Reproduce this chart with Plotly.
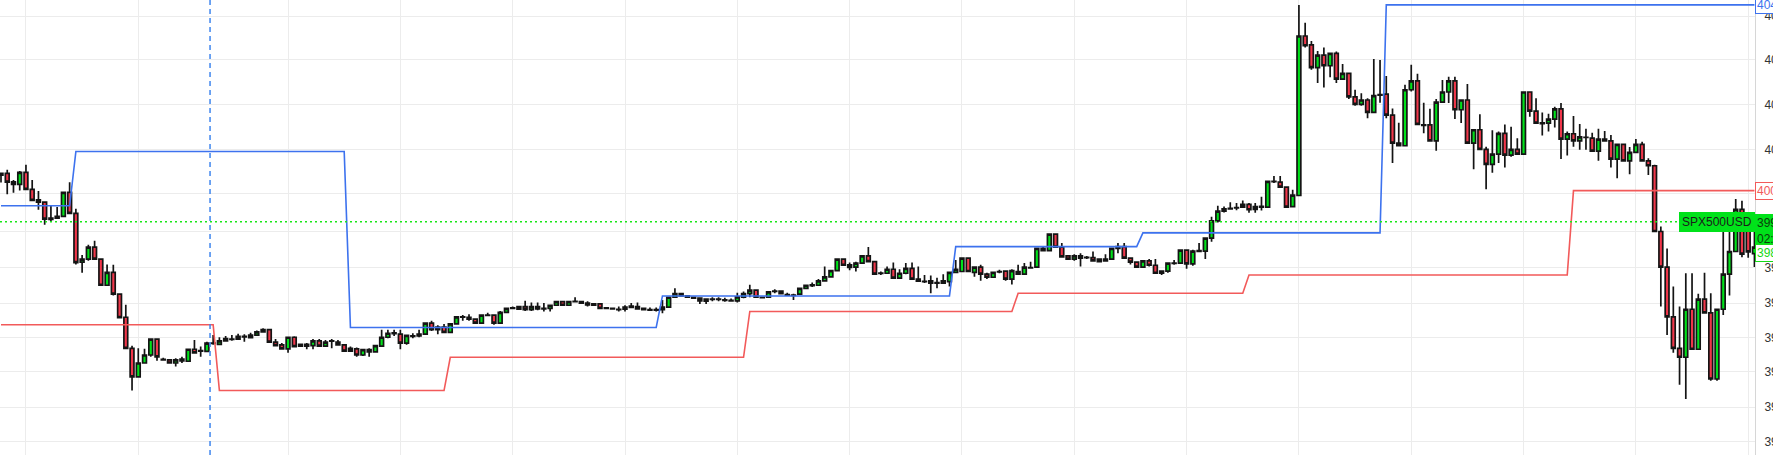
import plotly.graph_objects as go

# ---------------- data (SPX500USD intraday candles) ----------------
opens = [
    4004.1, 4004.5, 4002.6, 4002.0, 4004.7, 4000.9, 3998.5, 3998.0, 3994.4, 3994.4,
    3994.8, 4000.2, 3995.5, 3984.5, 3985.2, 3987.9, 3985.2, 3979.3, 3982.2, 3977.3,
    3972.1, 3965.1, 3958.7, 3961.8, 3963.6, 3967.2, 3962.6, 3962.5, 3961.8, 3962.3,
    3962.2, 3964.9, 3964.6, 3964.4, 3966.3, 3966.0, 3966.8, 3967.2, 3967.2, 3967.8,
    3967.5, 3968.1, 3968.8, 3969.3, 3966.5, 3965.9, 3965.0, 3967.6, 3965.6, 3966.0,
    3965.7, 3966.8, 3965.6, 3966.8, 3966.5, 3965.9, 3964.5, 3965.0, 3963.6, 3964.8,
    3964.3, 3965.6, 3967.6, 3968.6, 3968.3, 3966.3, 3967.9, 3967.9, 3968.3, 3970.8,
    3969.3, 3969.9, 3968.7, 3970.6, 3972.2, 3972.1, 3971.7, 3970.8, 3972.6, 3972.6,
    3970.8, 3973.2, 3974.2, 3973.9, 3974.5, 3973.8, 3974.5, 3974.1, 3974.1, 3974.8,
    3975.6, 3974.8, 3975.7, 3975.6, 3975.3, 3975.1, 3975.1, 3974.2, 3974.1, 3973.9,
    3973.9, 3974.6, 3974.5, 3974.1, 3973.8, 3973.8, 3973.8, 3974.4, 3976.6, 3977.4,
    3976.9, 3976.6, 3976.4, 3975.7, 3976.2, 3976.1, 3976.0, 3975.9, 3975.8, 3976.6,
    3977.4, 3978.2, 3976.6, 3976.6, 3978.0, 3978.0, 3977.2, 3977.1, 3977.3, 3978.6,
    3979.4, 3979.3, 3980.3, 3981.2, 3982.6, 3985.2, 3983.9, 3983.4, 3984.3, 3985.9,
    3984.6, 3982.05, 3982.0, 3982.9, 3980.9, 3982.0, 3983.1, 3980.7, 3980.2, 3980.3,
    3979.9, 3979.8, 3980.1, 3982.2, 3982.4, 3985.4, 3982.2, 3983.4, 3981.8, 3981.1,
    3982.4, 3982.5, 3980.7, 3982.4, 3981.8, 3983.3, 3983.4, 3987.6, 3987.1, 3990.8,
    3987.9, 3985.9, 3985.2, 3985.9, 3985.6, 3985.5, 3985.2, 3984.8, 3985.2, 3987.6,
    3988.0, 3985.4, 3984.5, 3983.4, 3984.8, 3983.8, 3982.0, 3982.5, 3984.3, 3984.3,
    3987.2, 3984.1, 3987.1, 3987.0, 3989.9, 3993.8, 3996.0, 3996.6, 3996.8, 3996.9,
    3997.5, 3996.4, 3997.05, 3996.9, 4002.7, 4002.5, 4001.4, 3997.0, 3999.5, 4035.4,
    4033.4, 4028.3, 4031.1, 4028.7, 4031.5, 4025.7, 4027.0, 4021.7, 4020.0, 4021.0,
    4018.2, 4022.2, 4022.3, 4017.6, 4011.3, 4010.7, 4023.3, 4025.3, 4015.4, 4015.4,
    4011.8, 4020.5, 4022.8, 4025.3, 4018.8, 4021.0, 4011.3, 4014.3, 4009.9, 4006.5,
    4008.8, 4013.5, 4008.6, 4009.9, 4008.8, 4022.8, 4018.5, 4015.85, 4015.8, 4016.7,
    4019.0, 4012.2, 4013.4, 4011.8, 4012.6, 4012.4, 4009.5, 4012.2, 4011.8, 4007.7,
    4011.0, 4007.3, 4009.2, 4011.0, 4007.3, 4006.2, 3991.4, 3983.4, 3972.2, 3965.1,
    3963.1, 3973.9, 3964.9, 3976.2, 3973.1, 3958.2, 3973.9, 3981.8, 3986.9, 3996.4,
    3992.2, 3986.4,
]
highs = [
    4004.7, 4005.3, 4003.0, 4005.0, 4006.4, 4003.0, 4000.5, 3998.1, 3997.2, 3996.9,
    4000.2, 4002.5, 3996.5, 3986.1, 3988.4, 3989.3, 3985.2, 3984.0, 3983.9, 3977.4,
    3974.9, 3965.7, 3965.1, 3965.0, 3967.4, 3967.3, 3963.0, 3962.6, 3962.9, 3963.2,
    3965.0, 3967.0, 3965.5, 3966.6, 3968.1, 3967.6, 3967.9, 3968.1, 3968.4, 3968.3,
    3968.6, 3969.1, 3969.6, 3969.4, 3967.2, 3966.3, 3967.7, 3967.8, 3966.2, 3966.3,
    3967.2, 3967.2, 3967.0, 3967.2, 3967.0, 3966.0, 3965.5, 3965.3, 3964.9, 3965.1,
    3965.9, 3969.3, 3969.3, 3969.3, 3969.3, 3968.1, 3968.5, 3969.3, 3970.9, 3971.3,
    3970.3, 3970.6, 3970.7, 3972.4, 3972.6, 3972.8, 3971.7, 3972.7, 3973.1, 3972.7,
    3973.5, 3974.2, 3974.5, 3974.6, 3975.8, 3975.4, 3975.4, 3975.3, 3974.9, 3975.7,
    3975.7, 3975.7, 3976.6, 3975.7, 3975.7, 3975.2, 3975.3, 3974.3, 3974.2, 3974.5,
    3974.8, 3975.3, 3975.4, 3974.2, 3974.3, 3974.3, 3976.0, 3976.7, 3978.6, 3977.5,
    3977.0, 3976.7, 3976.5, 3976.3, 3976.6, 3976.6, 3976.5, 3976.3, 3977.6, 3977.9,
    3979.4, 3978.3, 3976.7, 3978.0, 3978.4, 3978.1, 3977.6, 3977.4, 3978.7, 3979.5,
    3979.9, 3980.7, 3983.5, 3982.7, 3985.4, 3985.3, 3984.4, 3984.6, 3986.0, 3987.9,
    3984.7, 3982.4, 3983.5, 3984.4, 3982.9, 3984.3, 3984.4, 3983.5, 3981.6, 3981.5,
    3981.0, 3981.8, 3982.4, 3985.0, 3985.5, 3985.5, 3983.5, 3983.9, 3982.1, 3982.3,
    3982.8, 3982.6, 3982.9, 3983.9, 3984.3, 3984.6, 3987.7, 3988.0, 3990.9, 3990.9,
    3988.8, 3986.0, 3986.3, 3986.5, 3985.9, 3986.9, 3985.3, 3986.3, 3987.7, 3988.8,
    3988.8, 3985.5, 3984.6, 3984.9, 3985.2, 3985.2, 3982.6, 3984.4, 3985.0, 3987.3,
    3987.3, 3987.3, 3988.8, 3990.0, 3994.7, 3997.2, 3997.0, 3998.0, 3997.8, 3998.4,
    3997.8, 3997.8, 3999.2, 4002.8, 4003.9, 4003.9, 4001.5, 4000.8, 4042.4, 4038.4,
    4034.3, 4032.0, 4032.8, 4031.6, 4031.9, 4029.1, 4027.1, 4023.3, 4022.5, 4021.4,
    4030.2, 4030.0, 4026.4, 4019.1, 4015.9, 4024.4, 4028.9, 4026.9, 4020.4, 4019.0,
    4021.2, 4025.5, 4026.2, 4026.2, 4021.1, 4024.6, 4014.4, 4017.8, 4010.5, 4014.2,
    4013.9, 4015.5, 4015.0, 4012.4, 4022.9, 4022.9, 4021.4, 4018.2, 4017.9, 4019.5,
    4020.3, 4013.9, 4017.4, 4015.6, 4014.5, 4013.6, 4014.5, 4014.0, 4013.1, 4011.1,
    4011.1, 4010.4, 4012.2, 4011.6, 4007.9, 4006.4, 3992.5, 3987.6, 3979.0, 3974.5,
    3982.0, 3982.0, 3977.4, 3982.1, 3977.5, 3974.0, 3991.8, 3991.8, 3998.7, 3998.3,
    3994.0, 3991.8,
]
lows = [
    4002.4, 3999.8, 4000.1, 4000.6, 4000.8, 3998.3, 3996.3, 3992.9, 3993.7, 3994.2,
    3994.7, 3995.4, 3984.0, 3982.1, 3984.8, 3985.0, 3979.2, 3979.2, 3977.0, 3971.8,
    3965.0, 3955.6, 3958.6, 3961.7, 3963.2, 3962.3, 3962.3, 3961.7, 3961.0, 3961.8,
    3962.1, 3964.0, 3963.2, 3964.3, 3965.9, 3965.9, 3966.7, 3966.8, 3967.1, 3966.6,
    3967.4, 3968.0, 3968.7, 3966.4, 3965.6, 3964.9, 3964.1, 3965.4, 3965.4, 3964.9,
    3964.9, 3965.4, 3965.4, 3965.1, 3965.7, 3964.4, 3964.4, 3963.2, 3963.4, 3963.2,
    3964.1, 3965.5, 3967.4, 3967.9, 3964.9, 3965.9, 3967.4, 3967.6, 3968.1, 3969.0,
    3968.3, 3968.6, 3968.6, 3970.4, 3971.3, 3971.3, 3970.7, 3970.7, 3972.4, 3970.4,
    3970.7, 3973.0, 3973.9, 3973.8, 3973.5, 3973.5, 3973.7, 3973.4, 3973.4, 3974.7,
    3974.7, 3974.7, 3975.4, 3975.2, 3974.5, 3974.7, 3974.0, 3974.0, 3973.9, 3973.4,
    3973.4, 3974.1, 3973.9, 3973.7, 3973.6, 3973.4, 3973.0, 3974.3, 3976.5, 3976.8,
    3976.5, 3976.3, 3975.1, 3975.1, 3975.7, 3975.7, 3975.6, 3975.6, 3975.4, 3976.4,
    3976.6, 3976.5, 3976.4, 3976.5, 3977.5, 3977.3, 3976.9, 3976.0, 3977.2, 3978.4,
    3978.9, 3979.2, 3980.2, 3981.1, 3982.5, 3983.7, 3982.7, 3982.4, 3984.2, 3984.5,
    3981.7, 3981.6, 3981.9, 3980.7, 3980.7, 3981.8, 3980.6, 3980.1, 3979.8, 3977.5,
    3978.6, 3979.7, 3979.0, 3982.1, 3982.3, 3982.3, 3981.2, 3980.3, 3980.7, 3981.0,
    3982.0, 3980.3, 3979.5, 3981.7, 3981.6, 3983.1, 3983.3, 3986.9, 3987.0, 3987.8,
    3985.6, 3985.1, 3984.8, 3983.5, 3985.2, 3984.7, 3984.5, 3984.6, 3985.0, 3986.5,
    3985.3, 3984.0, 3983.3, 3983.3, 3983.5, 3981.9, 3981.6, 3982.1, 3983.9, 3984.2,
    3983.0, 3983.7, 3986.8, 3985.2, 3989.1, 3993.4, 3995.7, 3996.4, 3996.2, 3996.8,
    3995.6, 3995.6, 3996.1, 3996.8, 4002.3, 4001.3, 3996.8, 3996.9, 3999.4, 4032.8,
    4027.8, 4024.8, 4023.8, 4026.1, 4024.8, 4025.6, 4021.2, 4019.7, 4019.7, 4016.9,
    4018.0, 4020.4, 4016.9, 4006.8, 4010.6, 4010.6, 4022.9, 4015.4, 4013.5, 4011.7,
    4009.6, 4020.4, 4020.3, 4016.7, 4015.8, 4011.2, 4005.4, 4009.8, 4000.9, 4004.6,
    4006.8, 4005.8, 4008.2, 4008.7, 4008.7, 4017.2, 4015.7, 4013.0, 4013.9, 4014.8,
    4007.7, 4008.5, 4010.5, 4009.8, 4009.8, 4009.4, 4007.3, 4011.7, 4005.8, 4003.4,
    4007.1, 4004.3, 4009.1, 4007.2, 4004.1, 3991.3, 3974.5, 3968.1, 3964.1, 3956.9,
    3953.7, 3964.8, 3964.8, 3973.0, 3957.8, 3957.8, 3972.6, 3977.0, 3986.8, 3985.6,
    3985.5, 3983.4,
]
closes = [
    4004.5, 4002.5, 4002.0, 4004.7, 4000.9, 3998.4, 3998.0, 3994.2, 3994.1, 3994.8,
    4000.2, 3995.5, 3984.4, 3985.2, 3987.9, 3985.2, 3979.3, 3982.2, 3977.3, 3972.0,
    3965.1, 3958.7, 3961.8, 3963.6, 3967.2, 3963.2, 3962.5, 3961.8, 3962.5, 3962.7,
    3964.9, 3964.1, 3964.5, 3966.3, 3966.2, 3966.8, 3967.3, 3967.1, 3967.8, 3967.7,
    3968.1, 3968.8, 3969.3, 3966.5, 3965.7, 3965.0, 3967.6, 3965.5, 3966.0, 3965.6,
    3966.8, 3965.6, 3966.5, 3966.7, 3965.9, 3964.5, 3965.1, 3963.6, 3964.8, 3964.3,
    3965.7, 3967.6, 3968.5, 3968.4, 3966.3, 3968.0, 3967.8, 3968.3, 3970.8, 3969.3,
    3969.9, 3968.7, 3970.6, 3972.2, 3972.1, 3971.7, 3970.8, 3972.6, 3972.5, 3970.8,
    3973.2, 3974.1, 3974.1, 3974.5, 3973.8, 3974.5, 3974.0, 3974.0, 3974.8, 3975.6,
    3974.8, 3975.6, 3975.6, 3975.3, 3974.9, 3974.8, 3974.1, 3974.1, 3974.0, 3973.8,
    3974.4, 3974.3, 3974.0, 3973.8, 3973.7, 3973.7, 3974.4, 3976.6, 3977.4, 3976.9,
    3976.6, 3976.4, 3975.8, 3976.2, 3976.1, 3976.2, 3975.9, 3975.8, 3976.7, 3977.4,
    3978.2, 3976.6, 3976.5, 3977.8, 3977.9, 3977.4, 3977.1, 3977.0, 3978.6, 3979.3,
    3979.2, 3980.3, 3981.2, 3982.6, 3985.2, 3983.8, 3983.3, 3984.3, 3985.9, 3984.6,
    3981.8, 3981.95, 3982.9, 3980.9, 3982.0, 3983.1, 3980.7, 3980.2, 3980.1, 3979.8,
    3979.8, 3980.3, 3982.2, 3982.9, 3985.4, 3982.4, 3983.4, 3981.8, 3981.1, 3982.2,
    3982.3, 3980.7, 3982.6, 3981.8, 3983.4, 3983.2, 3987.6, 3987.1, 3990.8, 3987.9,
    3985.7, 3985.2, 3985.9, 3985.4, 3985.5, 3984.8, 3984.6, 3985.2, 3987.6, 3988.0,
    3985.4, 3984.5, 3983.4, 3984.8, 3983.8, 3982.0, 3982.5, 3984.3, 3984.2, 3987.2,
    3984.1, 3987.0, 3986.9, 3989.9, 3993.8, 3996.0, 3996.5, 3996.5, 3996.7, 3997.5,
    3996.3, 3997.0, 3996.9, 4002.7, 4002.6, 4001.4, 3996.9, 3999.6, 4035.4, 4033.2,
    4028.3, 4031.1, 4028.7, 4031.5, 4025.7, 4027.0, 4021.7, 4020.0, 4021.0, 4018.2,
    4022.0, 4022.1, 4017.6, 4011.3, 4010.7, 4023.3, 4025.3, 4015.5, 4015.3, 4011.8,
    4020.5, 4022.8, 4025.3, 4018.8, 4021.0, 4011.3, 4014.3, 4009.9, 4006.5, 4008.8,
    4013.5, 4008.6, 4009.9, 4008.8, 4022.8, 4018.5, 4015.8, 4015.7, 4016.7, 4019.0,
    4012.2, 4013.4, 4011.8, 4012.7, 4012.55, 4009.5, 4012.2, 4011.8, 4007.7, 4011.0,
    4007.3, 4009.2, 4011.0, 4007.3, 4006.2, 3991.4, 3983.4, 3972.2, 3965.1, 3963.1,
    3973.9, 3964.9, 3976.2, 3973.1, 3958.2, 3973.9, 3981.8, 3986.9, 3996.4, 3986.3,
    3986.8, 3987.9,
]
candle_idx = list(range(len(closes)))

# upper (blue) and lower (red) step levels: candle index -> level
upper_idx = [0, 11, 12, 55, 56, 105, 106, 152, 153, 182, 183, 221, 222, 281]
upper_val = [3997.2, 3997.2, 4009.4, 4009.4, 3969.8, 3969.8, 3976.9, 3976.9,
             3988.0, 3988.0, 3991.1, 3991.1, 4042.4, 4042.4]
lower_idx = [0, 34, 35, 71, 72, 119, 120, 162, 163, 199, 200, 251, 252, 281]
lower_val = [3970.4, 3970.4, 3955.6, 3955.6, 3963.1, 3963.1, 3973.4, 3973.4,
             3977.5, 3977.5, 3981.6, 3981.6, 4000.6, 4000.6]

symbol = "SPX500USD"
current_price = 3993.6
bid_price = 3986.6
countdown = "02:41"
session_marker = 33.5          # candle position of the dashed session line
grid_idx = [4, 22, 46, 64, 82, 100, 118, 136, 154, 172, 190, 208, 226, 244, 262, 280]
# price-scale grid levels (labels are clipped at the edge)
price_ticks = [4039.9, 4030.0, 4019.9, 4009.8, 4000.0, 3991.5, 3983.2,
               3975.3, 3967.5, 3959.8, 3951.9, 3944.1]
y_min, y_max = 3941.1, 4043.5
x_min, x_max = -0.16, 281.09

GREEN = "#00e21a"
RED = "#f0364a"
BLUE = "#3d72ee"
LRED = "#f25a5a"
FONT = "Liberation Sans, Arial, sans-serif"

fig = go.Figure()

fig.add_trace(go.Scatter(x=upper_idx, y=upper_val, mode="lines",
                         line=dict(color=BLUE, width=1.6), hoverinfo="skip"))
fig.add_trace(go.Scatter(x=lower_idx, y=lower_val, mode="lines",
                         line=dict(color=LRED, width=1.6), hoverinfo="skip"))

fig.add_trace(go.Candlestick(
    x=candle_idx, open=opens, high=highs, low=lows, close=closes,
    increasing=dict(fillcolor=GREEN, line=dict(color="#141414", width=1.7)),
    decreasing=dict(fillcolor=RED, line=dict(color="#141414", width=1.7)),
    whiskerwidth=0,
))

# current price dotted line (stops at symbol label)
fig.add_shape(type="line", xref="x", yref="y", x0=x_min, x1=269.5,
              y0=current_price, y1=current_price,
              line=dict(color="#19e619", width=1.5, dash="2px,3px"))
# dashed session line
fig.add_shape(type="line", xref="x", yref="paper", x0=session_marker, x1=session_marker,
              y0=0, y1=1, line=dict(color="#3f86ee", width=1.5, dash="5px,4px"))

ann_font = dict(family=FONT, size=12)
# right-side price tags
fig.add_annotation(xref="paper", yref="y", x=1, y=upper_val[-1], xanchor="left",
                   yanchor="middle", text="4042.4", showarrow=False,
                   font=dict(ann_font, color=BLUE), bgcolor="white",
                   bordercolor=BLUE, borderwidth=1, borderpad=1)
fig.add_annotation(xref="paper", yref="y", x=1, y=lower_val[-1], xanchor="left",
                   yanchor="middle", text="4000.6", showarrow=False,
                   font=dict(ann_font, color=LRED), bgcolor="white",
                   bordercolor=LRED, borderwidth=1, borderpad=1)
fig.add_annotation(xref="paper", yref="y", x=1, y=current_price, xanchor="left",
                   yanchor="top", yshift=8, text=f"{current_price}<br>{countdown}",
                   showarrow=False, align="left",
                   font=dict(ann_font, color="#0b3d0b"), bgcolor=GREEN,
                   bordercolor=GREEN, borderwidth=1, borderpad=1)
fig.add_annotation(xref="paper", yref="y", x=1, y=bid_price, xanchor="left",
                   yanchor="middle", text=f"{bid_price}", showarrow=False,
                   font=dict(ann_font, color="#16d916"), bgcolor="white",
                   bordercolor="#16d916", borderwidth=1, borderpad=1)
fig.add_annotation(xref="paper", yref="y", x=1, y=current_price, xanchor="right",
                   yanchor="middle", text=symbol, showarrow=False,
                   font=dict(ann_font, color="#1b1b1b"), bgcolor=GREEN,
                   bordercolor=GREEN, borderwidth=1, borderpad=2)

fig.update_layout(
    width=1773, height=455,
    margin=dict(l=0, r=18, t=0, b=0, autoexpand=False),
    paper_bgcolor="white", plot_bgcolor="white",
    showlegend=False,
    boxgap=0.22, boxgroupgap=0.22,
    font=dict(family=FONT, size=12, color="#333333"),
    xaxis=dict(range=[x_min, x_max], rangeslider=dict(visible=False),
               tickvals=grid_idx, showticklabels=False, ticks="",
               showgrid=True, gridcolor="#ececec", gridwidth=1,
               zeroline=False, showline=False, automargin=False),
    yaxis=dict(range=[y_min, y_max], side="right", tickvals=price_ticks,
               showgrid=True, gridcolor="#ececec", gridwidth=1,
               zeroline=False, showline=True, linecolor="#d6d6d6", linewidth=1,
               ticks="outside", ticklen=6, tickcolor="rgba(0,0,0,0)",
               tickfont=dict(family=FONT, size=12, color="#333333"),
               tickformat=".0f", automargin=False),
)

fig.write_html("out.html", config={"displayModeBar": False},
               post_script="document.body.style.margin='0';")
